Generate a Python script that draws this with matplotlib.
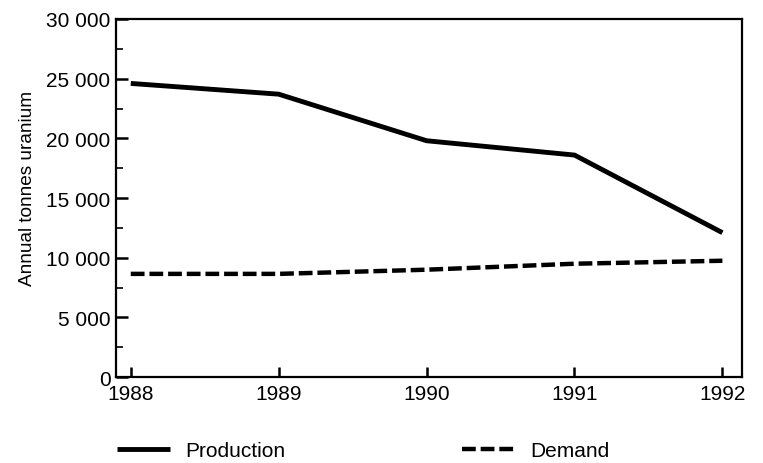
import numpy as np
import matplotlib.pyplot as plt
from matplotlib.lines import Line2D
from matplotlib.ticker import FuncFormatter, MultipleLocator

years = [1988, 1989, 1990, 1991, 1992]
production = [24600, 23700, 19800, 18600, 12100]
demand = [8650, 8650, 9000, 9500, 9750]

plt.rcParams['font.family'] = ['Liberation Sans', 'DejaVu Sans']

fig = plt.figure(figsize=(7.63, 4.64), dpi=100)
ax = fig.add_axes([0.152, 0.185, 0.820, 0.772])

dash = (0, (3.1, 1.1))
ax.plot(years, production, color='black', lw=3.5, solid_capstyle='butt')
ax.plot(years, demand, color='black', lw=3.2, linestyle=dash, dash_capstyle='butt')

ax.set_xlim(1987.9, 1992.13)
ax.set_ylim(0, 30000)
ax.set_xticks(years)
ax.yaxis.set_major_locator(MultipleLocator(5000))
ax.yaxis.set_minor_locator(MultipleLocator(2500))
ax.yaxis.set_major_formatter(FuncFormatter(lambda v, p: f"{int(v):,}".replace(",", " ")))

ax.tick_params(axis='y', which='major', direction='in', length=8.5, width=1.8, labelsize=15, pad=4)
ax.tick_params(axis='y', which='minor', direction='in', length=5, width=1.2)
ax.tick_params(axis='x', direction='in', length=7, width=1.8, labelsize=15, pad=5)
for s in ax.spines.values():
    s.set_linewidth(1.6)

ax.set_ylabel('Annual tonnes uranium', fontsize=13.7, labelpad=7)
ax.yaxis.label.set_y(0.529)

handles = [Line2D([], [], color='black', lw=3.5, solid_capstyle='butt'),
           Line2D([], [], color='black', lw=3.2, linestyle=dash, dash_capstyle='butt')]
fig.legend(handles, ['Production', 'Demand'], loc='center left', bbox_to_anchor=(0.153, 0.026),
           ncol=2, frameon=False, fontsize=15, handlelength=2.55, handletextpad=0.72,
           columnspacing=8.5, borderpad=0, borderaxespad=0)

fig.savefig('out.png', dpi=100)
